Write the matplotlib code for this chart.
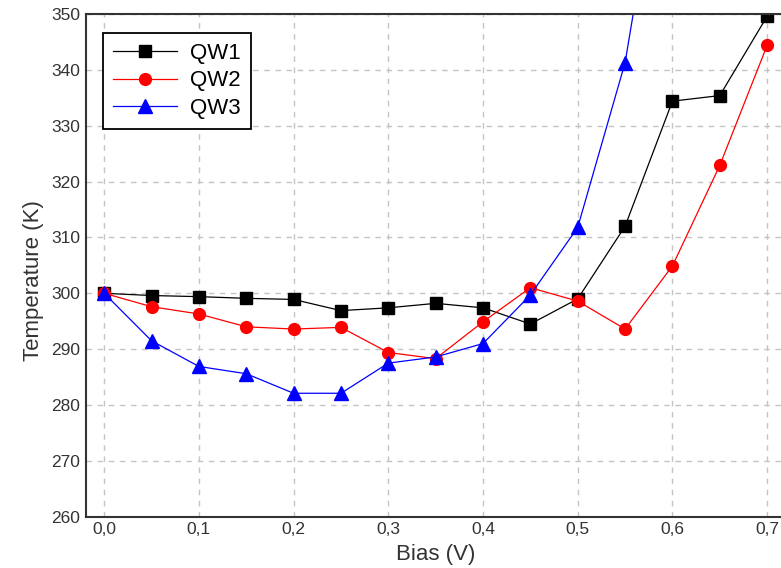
import numpy as np
import matplotlib
matplotlib.use('Agg')
import matplotlib.pyplot as plt
from matplotlib.ticker import FuncFormatter

plt.rcParams['font.family'] = ['Liberation Sans', 'DejaVu Sans']

bias = [0.0, 0.05, 0.1, 0.15, 0.2, 0.25, 0.3, 0.35, 0.4, 0.45, 0.5, 0.55, 0.6, 0.65, 0.7]
qw1 = [300.0, 299.6, 299.4, 299.1, 298.9, 296.9, 297.4, 298.2, 297.4, 294.5, 299.0, 312.0, 334.4, 335.4, 349.6]
qw2 = [300.0, 297.6, 296.3, 294.0, 293.6, 293.9, 289.4, 288.3, 294.9, 301.0, 298.6, 293.6, 304.9, 322.9, 344.4]
bias3 = [0.0, 0.05, 0.1, 0.15, 0.2, 0.25, 0.3, 0.35, 0.4, 0.45, 0.5, 0.55, 0.6]
qw3 = [300.0, 291.5, 286.9, 285.6, 282.1, 282.1, 287.5, 288.6, 291.0, 299.7, 311.8, 341.3, 392.0]

xticks = [0.0, 0.1, 0.2, 0.3, 0.4, 0.5, 0.6, 0.7]
yticks = [260, 270, 280, 290, 300, 310, 320, 330, 340, 350]

fig = plt.figure(figsize=(7.81, 5.68), dpi=100)
ax = fig.add_axes([0.110, 0.0903, 0.8965, 0.885])

ax.plot(bias, qw1, color='black', lw=0.9, marker='s', ms=8.5, label='QW1')
ax.plot(bias, qw2, color='red', lw=0.9, marker='o', ms=8.5, label='QW2')
ax.plot(bias3, qw3, color='blue', lw=0.9, marker='^', ms=9.5, label='QW3')

ax.set_xlim(-0.0193, 0.72)
ax.set_ylim(260, 350)
ax.set_xticks(xticks)
ax.set_yticks(yticks)
ax.xaxis.set_major_formatter(FuncFormatter(lambda v, p: f'{v:.1f}'.replace('.', ',')))
ax.tick_params(length=0, labelsize=12.5, labelcolor='#333333', pad=4)

ax.grid(True, color='#c4c4c4', linestyle=(0, (4, 4)), linewidth=1.0)
for s in ax.spines.values():
    s.set_color('#333333')
    s.set_linewidth(1.5)

ax.set_xlabel('Bias (V)', fontsize=16, color='#333333', labelpad=5)
ax.set_ylabel('Temperature (K)', fontsize=16, color='#333333', labelpad=5)
ax.yaxis.label.set_y(0.469)

leg = ax.legend(loc='upper left', bbox_to_anchor=(0.024, 0.963), fontsize=16,
                fancybox=False, edgecolor='black', framealpha=1,
                handlelength=2.9, handletextpad=0.6, labelspacing=0.3,
                borderpad=0.45, borderaxespad=0)
leg.get_frame().set_linewidth(1.3)

fig.savefig('out.png', dpi=100)
